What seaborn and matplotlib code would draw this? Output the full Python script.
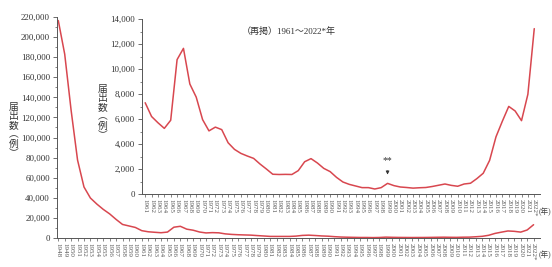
import matplotlib
matplotlib.use("Agg")
import matplotlib.pyplot as plt
import matplotlib.ticker as mticker
import seaborn as sns
import pandas as pd

# data: reported cases per year
years_early = list(range(1948, 1961))
cases_early = [216500, 183000, 127000, 77600, 50800, 39800, 33800, 28500,
               24000, 18500, 13500, 12000, 10500]

years = list(range(1961, 2023))
cases = [7300, 6200, 5700, 5250, 5900, 10750, 11650, 8800, 7750, 5950,
         5050, 5350, 5150, 4100, 3570, 3250, 3040, 2850, 2400, 2000,
         1580, 1560, 1570, 1560, 1870, 2580, 2830, 2480, 2050, 1790,
         1330, 960, 770, 640, 510, 510, 400, 510, 850, 670,
         560, 520, 470, 500, 520, 600, 700, 800, 690, 620,
         800, 860, 1230, 1660, 2690, 4575, 5826, 7007, 6642, 5867,
         7978, 13228]

df_all = pd.DataFrame({"year": years_early + years, "cases": cases_early + cases})
df_re = pd.DataFrame({"year": years, "cases": cases})

sns.set_style("ticks")
plt.rcParams['font.family'] = ['Liberation Serif', 'Noto Sans CJK JP', 'DejaVu Sans']
red = "#d8474f"
grey = "#555555"

fig = plt.figure(figsize=(5.52, 2.67), dpi=100)
W, H = 552, 267


def place(l, r, t, b):
    return [l / W, (H - b) / H, (r - l) / W, (b - t) / H]


def style_axis(ax, labels):
    for s in ["top", "right"]:
        ax.spines[s].set_visible(False)
    for s in ["left", "bottom"]:
        ax.spines[s].set_color(grey)
        ax.spines[s].set_linewidth(0.7)
    ax.set_xticks(labels)
    ax.set_xticklabels([f"{y}*" if y == 2022 else str(y) for y in labels],
                       rotation=-90, fontsize=5, color="#444444")
    ax.tick_params(axis="x", length=2, width=0.5, pad=1.5, colors=grey)
    ax.tick_params(axis="y", which="major", length=3, width=0.6, pad=2,
                   labelsize=6.4, colors=grey, labelcolor="#333333")
    ax.tick_params(axis="y", which="minor", length=1.8, width=0.5, colors=grey)
    ax.yaxis.set_major_formatter(mticker.StrMethodFormatter("{x:,.0f}"))
    ax.set_xlabel("")
    ax.set_ylabel("")


# main chart 1948-2022
ax = fig.add_axes(place(57, 540, 17, 238))
sns.lineplot(data=df_all, x="year", y="cases", color=red, lw=1.1, ax=ax)
ax.set_xlim(1947.8, 2023.0)
ax.set_ylim(0, 220000)
ax.yaxis.set_major_locator(mticker.MultipleLocator(20000))
ax.yaxis.set_minor_locator(mticker.MultipleLocator(10000))
style_axis(ax, df_all["year"].tolist())
ax.patch.set_alpha(0)

# inset 1961-2022
ax2 = fig.add_axes(place(142, 540, 19, 194))
sns.lineplot(data=df_re, x="year", y="cases", color=red, lw=1.1, ax=ax2)
ax2.set_xlim(1960.5, 2022.9)
ax2.set_ylim(0, 14000)
ax2.yaxis.set_major_locator(mticker.MultipleLocator(2000))
ax2.yaxis.set_minor_locator(mticker.MultipleLocator(1000))
style_axis(ax2, years)
ax2.patch.set_alpha(0)

ax2.text(0.25, 0.93, "（再掲）1961～2022*年", transform=ax2.transAxes,
         fontsize=6.5, color="#333333", ha="left", va="center")

ax2.annotate("**", xy=(1999, 1550), xytext=(1999, 2700), ha="center",
             va="center", fontsize=7, color="#333333",
             arrowprops=dict(arrowstyle="-|>", color="#333333", lw=0.6,
                             mutation_scale=5, shrinkA=2, shrinkB=0))

# vertical japanese y labels
vlabel = "届\n出\n数\n︵\n例\n︶"
fig.text(14 / W, 1 - 130 / H, vlabel, fontsize=7, color="#333333",
         ha="center", va="center", linespacing=0.9,
         family=['Noto Sans CJK JP', 'DejaVu Sans'])
fig.text(103 / W, 1 - 112 / H, vlabel, fontsize=7, color="#333333",
         ha="center", va="center", linespacing=0.9,
         family=['Noto Sans CJK JP', 'DejaVu Sans'])

fig.text(545 / W, 1 - 255 / H, "(年)", fontsize=5.5, color="#444444",
         ha="center", va="center")
fig.text(545 / W, 1 - 212 / H, "(年)", fontsize=5.5, color="#444444",
         ha="center", va="center")

fig.savefig("out.png", dpi=100)
